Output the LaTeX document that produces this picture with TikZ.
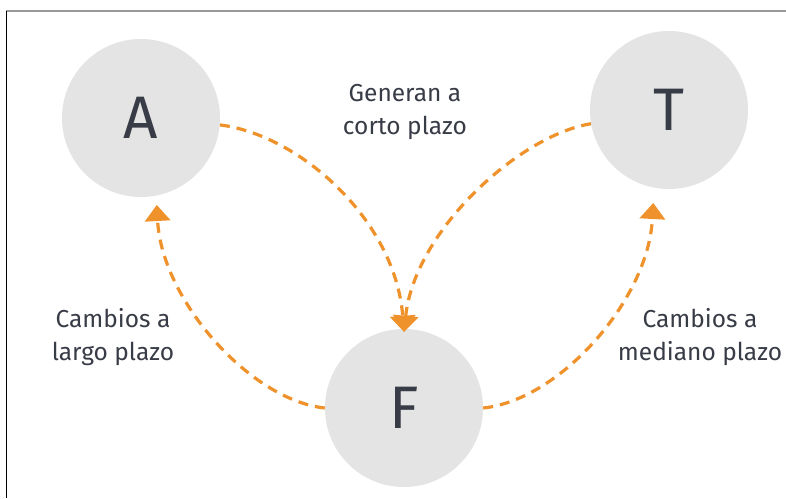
\documentclass[tikz,border=0pt]{standalone}
\usepackage{fontspec}
\setmainfont{Fira Sans}
\usetikzlibrary{arrows.meta}
\definecolor{circ}{HTML}{E3E4E3}
\definecolor{orng}{HTML}{F0922B}
\definecolor{txt}{HTML}{383C46}
\begin{document}
\begin{tikzpicture}[x=1pt,y=-1pt,
  bub/.style={circle,fill=circ,minimum size=158pt,inner sep=0pt,text=txt,font=\fontsize{60}{60}\selectfont},
  lbl/.style={text=txt,align=center,font=\fontsize{24.5}{33}\selectfont},
  link/.style={draw=orng,line width=3.2pt,dash pattern=on 10pt off 7pt,-{Triangle[length=16pt,width=26pt,fill=orng,line width=0pt]}}]
\useasboundingbox (0,0) rectangle (786,498);
\fill[white] (0,0) rectangle (786,498);
\draw[gray!80,line width=2pt] (6,11) -- (786,11);
\draw[black,line width=1pt] (6,11) -- (6,498);
\node[bub] (A) at (141,118) {A};
\node[bub] (T) at (669,110) {T};
\node[bub] (F) at (404,408) {F};
\node[lbl] (g) at (405,112) {Generan a\\corto plazo};
\node[lbl] (l) at (113,337) {Cambios a\\largo plazo};
\node[lbl] (m) at (700,337) {Cambios a\\mediano plazo};
\draw[link] (A.-5) .. controls (300,135) and (395,220) .. ([yshift=-3pt]F.north);
\draw[link] (T.-170) .. controls (520,135) and (415,230) .. ([yshift=-3pt]F.north);
\draw[link] (F.west) .. controls (250,400) and (162,300) .. ([shift={(2,9)}]A.-80);
\draw[link] (F.east) .. controls (560,400) and (648,300) .. ([shift={(-2,15)}]T.-100);
\end{tikzpicture}
\end{document}
